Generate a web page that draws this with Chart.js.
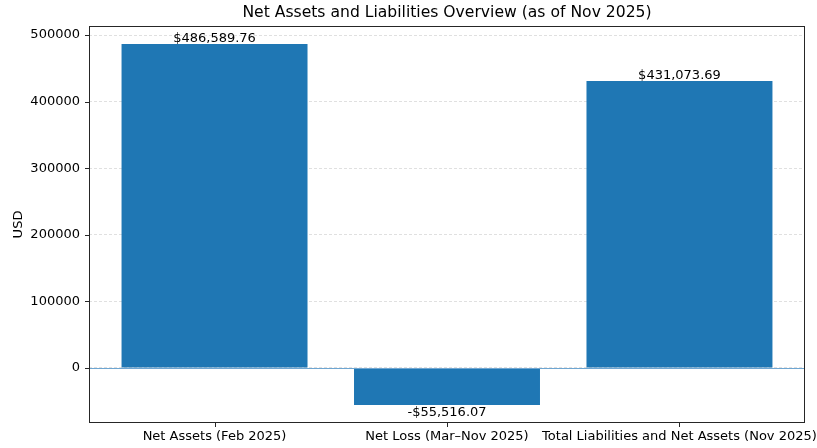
<!DOCTYPE html>
<html>
<head>
<meta charset="utf-8">
<script src="https://cdn.jsdelivr.net/npm/chart.js@4"></script>
<style>
  html, body { margin: 0; padding: 0; background: #fff; }
  #wrap { width: 817px; height: 448px; }
</style>
</head>
<body>
<div id="wrap"><canvas id="chart"></canvas></div>
<script>
// data
const CATEGORIES = ["Net Assets (Feb 2025)", "Net Loss (Mar\u2013Nov 2025)", "Total Liabilities and Net Assets (Nov 2025)"];
const AMOUNTS    = [486589.76, -55516.07, 431073.69];
const Y_TICKS    = [0, 100000, 200000, 300000, 400000, 500000];

const TITLE     = "Net Assets and Liabilities Overview (as of Nov 2025)";
const FONT      = "'DejaVu Sans', sans-serif";
const FS        = 13;
const BAR_COLOR = "#1f77b4";
const AXIS_COLOR = "#262626";
const TEXT_COLOR = "#000";

// matplotlib-like 5% margins
const yLo = Math.min(0, ...AMOUNTS), yHi = Math.max(0, ...AMOUNTS);
const yPad = (yHi - yLo) * 0.05;
const xPad = (CATEGORIES.length - 1 + 0.8) * 0.05;

const fmtMoney = v => (v < 0 ? "-$" : "$") +
  Math.abs(v).toLocaleString("en-US", { minimumFractionDigits: 2, maximumFractionDigits: 2 });

const framePlugin = {
  id: "frame",
  afterDatasetsDraw(chart) {
    const { ctx, chartArea: a, scales } = chart;
    ctx.save();
    // zero line
    const y0 = Math.round(scales.y.getPixelForValue(0)) + 0.5;
    ctx.strokeStyle = "#6fa6d2";
    ctx.lineWidth = 1;
    ctx.beginPath(); ctx.moveTo(a.left, y0); ctx.lineTo(a.right, y0); ctx.stroke();

    // value labels
    ctx.font = `${FS}px ${FONT}`;
    ctx.fillStyle = TEXT_COLOR;
    ctx.textAlign = "center";
    chart.getDatasetMeta(0).data.forEach((bar, i) => {
      const v = AMOUNTS[i];
      if (v >= 0) { ctx.textBaseline = "bottom"; ctx.fillText(fmtMoney(v), bar.x, bar.y + 1); }
      else        { ctx.textBaseline = "top";    ctx.fillText(fmtMoney(v), bar.x, bar.y + 1); }
    });
    ctx.restore();
  },
  afterDraw(chart) {
    const { ctx, chartArea: a, scales } = chart;
    ctx.save();
    ctx.strokeStyle = AXIS_COLOR;
    ctx.lineWidth = 1;
    ctx.strokeRect(Math.round(a.left) + 0.5, Math.round(a.top) + 0.5,
                   Math.round(a.right - a.left) - 1, Math.round(a.bottom - a.top) - 1);
    // tick marks
    ctx.beginPath();
    Y_TICKS.forEach(t => {
      const y = Math.round(scales.y.getPixelForValue(t)) + 0.5;
      ctx.moveTo(a.left - 4, y); ctx.lineTo(a.left, y);
    });
    CATEGORIES.forEach((_, i) => {
      const x = Math.round(scales.x.getPixelForValue(i)) + 0.5;
      ctx.moveTo(x, a.bottom); ctx.lineTo(x, a.bottom + 4);
    });
    ctx.stroke();
    // title
    ctx.font = `15.6px ${FONT}`;
    ctx.fillStyle = TEXT_COLOR;
    ctx.textAlign = "center";
    ctx.textBaseline = "middle";
    ctx.fillText(TITLE, (a.left + a.right) / 2, 13);
    ctx.restore();
  },
};

new Chart(document.getElementById("chart"), {
  type: "bar",
  plugins: [framePlugin],
  data: {
    datasets: [{
      data: AMOUNTS.map((v, i) => ({ x: i, y: v })),
      backgroundColor: BAR_COLOR,
      borderWidth: 0,
      barPercentage: 0.8,
      categoryPercentage: 1.0,
    }],
  },
  options: {
    responsive: true,
    maintainAspectRatio: false,
    animation: false,
    devicePixelRatio: 1,
    layout: { padding: { top: 26, right: 12, left: 0, bottom: 0 } },
    plugins: { legend: { display: false }, tooltip: { enabled: false }, title: { display: false } },
    scales: {
      x: {
        type: "linear",
        offset: false,
        min: -0.4 - xPad,
        max: CATEGORIES.length - 1 + 0.4 + xPad,
        afterBuildTicks: s => { s.ticks = CATEGORIES.map((_, i) => ({ value: i })); },
        afterFit: s => { s.height = 25; s.paddingLeft = 0; s.paddingRight = 0; },
        grid: { display: false, drawTicks: false, offset: false },
        border: { display: false },
        ticks: {
          color: TEXT_COLOR, font: { family: FONT, size: FS }, padding: 6,
          autoSkip: false, maxRotation: 0, minRotation: 0,
          callback: v => CATEGORIES[v] ?? "",
        },
      },
      y: {
        min: yLo - yPad,
        max: yHi + yPad,
        afterBuildTicks: s => { s.ticks = Y_TICKS.map(v => ({ value: v })); },
        afterFit: s => { s.width = 89; },
        grid: { color: "#d8d8d8", lineWidth: 0.8, drawTicks: false },
        border: { display: false, dash: [3, 2] },
        title: { display: true, text: "USD", color: TEXT_COLOR, font: { family: FONT, size: FS }, padding: { top: 11, bottom: 0 } },
        ticks: { color: TEXT_COLOR, font: { family: FONT, size: FS }, padding: 9, callback: v => String(v) },
      },
    },
  },
});
</script>
</body>
</html>
